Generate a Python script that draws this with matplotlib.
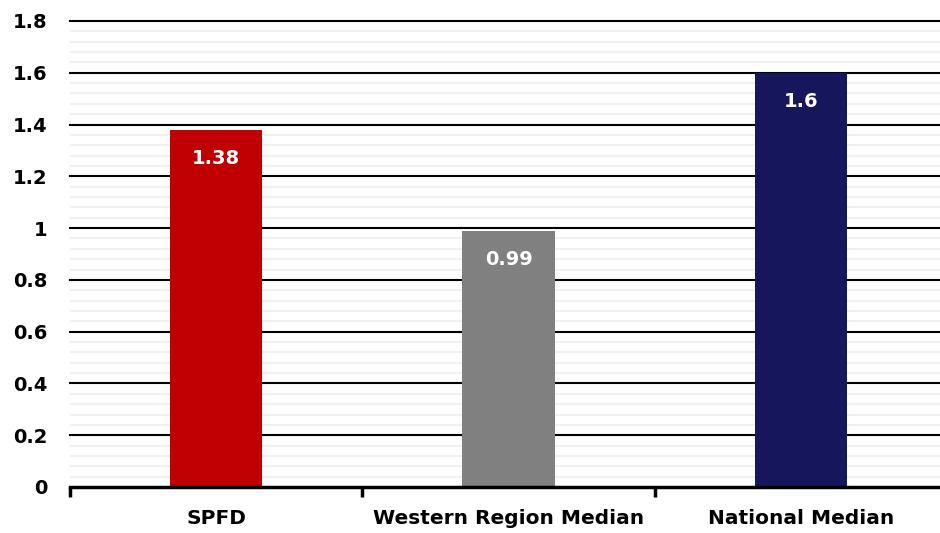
import matplotlib
matplotlib.use("Agg")
import matplotlib.pyplot as plt
import numpy as np

categories = ["SPFD", "Western Region Median", "National Median"]
values = [1.38, 0.99, 1.6]
value_labels = ["1.38", "0.99", "1.6"]
colors = ["#C00000", "#808080", "#16165C"]
yticks = [0, 0.2, 0.4, 0.6, 0.8, 1, 1.2, 1.4, 1.6, 1.8]
ytick_labels = ["0", "0.2", "0.4", "0.6", "0.8", "1", "1.2", "1.4", "1.6", "1.8"]

plt.rcParams['font.family'] = ['DejaVu Sans']

fig = plt.figure(figsize=(9.4, 5.33), dpi=100)
ax = fig.add_axes([70/940, 1-487/533, 877/940, (487-21)/533])

x = np.arange(len(categories))
# minor gridlines
for v in np.arange(0, 1.8001, 0.04):
    ax.axhline(v, color="#F0F0F0", lw=1.6, zorder=0)
for v in yticks[1:]:
    ax.axhline(v, color="black", lw=1.5, zorder=1, clip_on=False)

ax.bar(x, values, width=0.315, color=colors, zorder=2)
for xi, v, lab in zip(x, values, value_labels):
    ax.annotate(lab, (xi, v), xytext=(0, -21), textcoords="offset points",
                ha="center", va="center", color="white", fontsize=14, fontweight="bold", zorder=3)

ax.set_xlim(-0.5, 2.5)
ax.set_ylim(0, 1.8)
ax.set_yticks(yticks)
ax.set_yticklabels(ytick_labels, fontsize=14, fontweight="bold")
ax.tick_params(axis="y", length=0, pad=16)

ax.set_xticks([-0.5, 0.5, 1.5, 2.5])
ax.set_xticklabels([])
ax.tick_params(axis="x", which="major", length=7, width=2.5, direction="out", color="black")
ax.set_xticks(x, minor=True)
ax.set_xticklabels(categories, minor=True, fontsize=14.5, fontweight="bold")
ax.tick_params(axis="x", which="minor", length=0, pad=16)

for s in ["top", "right", "left"]:
    ax.spines[s].set_visible(False)
ax.spines["bottom"].set_linewidth(2.5)
ax.spines["bottom"].set_zorder(4)

fig.savefig("out.png", dpi=100)
